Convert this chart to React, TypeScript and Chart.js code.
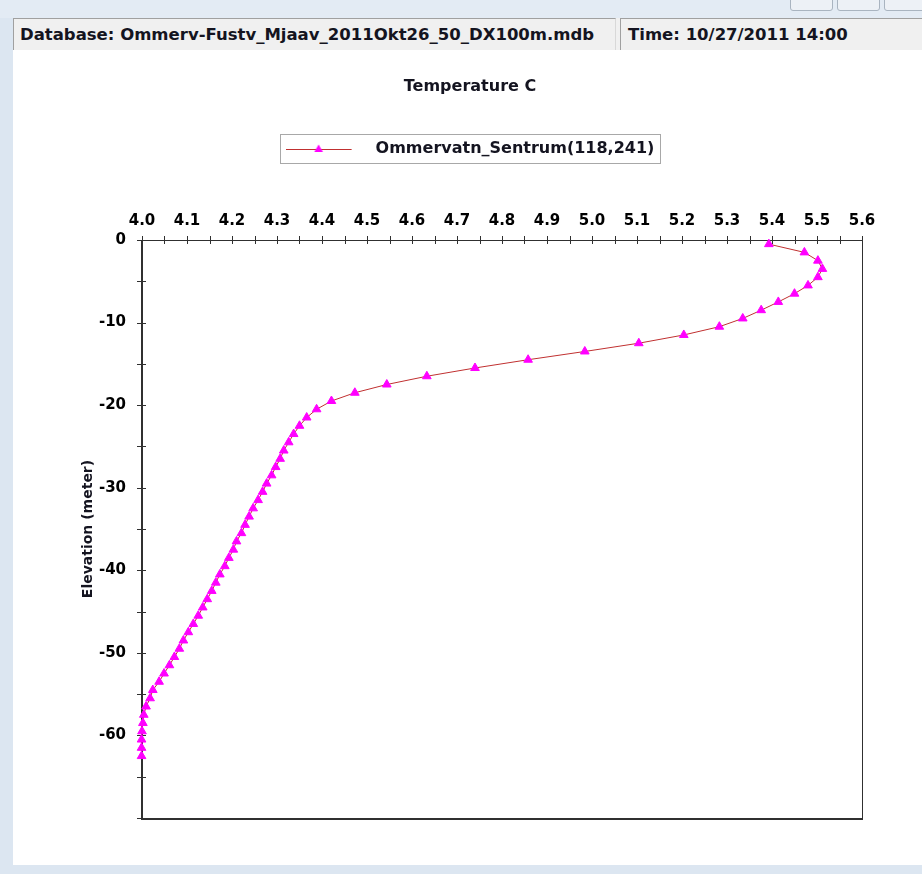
import React, { useEffect, useRef } from 'react';
import { Chart, registerables } from 'chart.js';

Chart.register(...registerables);

// ---------- texts ----------
const DATABASE_LABEL = 'Database: Ommerv-Fustv_Mjaav_2011Okt26_50_DX100m.mdb';
const TIME_LABEL = 'Time: 10/27/2011 14:00';
const CHART_TITLE = 'Temperature C';
const SERIES_NAME = 'Ommervatn_Sentrum(118,241)';
const Y_TITLE = 'Elevation (meter)';

// ---------- data ----------
const elevation = [
  -0.5, -1.5, -2.5, -3.5, -4.5, -5.5, -6.5, -7.5, -8.5, -9.5,
  -10.5, -11.5, -12.5, -13.5, -14.5, -15.5, -16.5, -17.5, -18.5, -19.5,
  -20.5, -21.5, -22.5, -23.5, -24.5, -25.5, -26.5, -27.5, -28.5, -29.5,
  -30.5, -31.5, -32.5, -33.5, -34.5, -35.5, -36.5, -37.5, -38.5, -39.5,
  -40.5, -41.5, -42.5, -43.5, -44.5, -45.5, -46.5, -47.5, -48.5, -49.5,
  -50.5, -51.5, -52.5, -53.5, -54.5, -55.5, -56.5, -57.5, -58.5, -59.5,
  -60.5, -61.5, -62.5,
];
const temperature = [
  5.393, 5.472, 5.502, 5.512, 5.502, 5.480, 5.450, 5.414, 5.376, 5.335,
  5.283, 5.204, 5.104, 4.984, 4.858, 4.740, 4.633, 4.544, 4.473, 4.421,
  4.388, 4.366, 4.350, 4.337, 4.326, 4.315, 4.307, 4.297, 4.288, 4.277,
  4.268, 4.258, 4.247, 4.238, 4.229, 4.221, 4.210, 4.203, 4.193, 4.184,
  4.173, 4.164, 4.155, 4.145, 4.135, 4.125, 4.114, 4.103, 4.092, 4.083,
  4.072, 4.061, 4.049, 4.038, 4.024, 4.018, 4.009, 4.004, 4.002, 4.000,
  3.999, 3.999, 3.999,
];

// ---------- axis ranges / ticks ----------
const X_MIN = 4.0;
const X_MAX = 5.6;
const X_LABEL_STEP = 0.1;
const X_MINOR_STEP = 0.05;
const Y_MIN = -70;
const Y_MAX = 0;
const Y_LABEL_STEP = 10;
const Y_MINOR_STEP = 5;

// ---------- styles ----------
const LINE_COLOR = '#c03030';
const POINT_COLOR = '#ff00ff';
const AXIS_COLOR = '#303030';
const TEXT_COLOR = '#141420';
const FONT = "'DejaVu Sans', 'Noto Sans', sans-serif";

const framePlugin = {
  id: 'plotFrame',
  beforeDatasetsDraw(chart: any) {
    const { ctx, chartArea: a, scales } = chart;
    ctx.save();
    ctx.strokeStyle = AXIS_COLOR;
    ctx.lineWidth = 1;
    ctx.strokeRect(a.left + 0.5, a.top + 0.5, a.right - a.left, a.bottom - a.top);
    ctx.lineWidth = 2;
    ctx.beginPath();
    ctx.moveTo(a.left, a.top);
    ctx.lineTo(a.left, a.bottom + 1);
    ctx.lineTo(a.right + 1, a.bottom + 1);
    ctx.stroke();
    ctx.lineWidth = 1;
    const xs = scales.x;
    const nx = Math.round((X_MAX - X_MIN) / X_MINOR_STEP);
    ctx.beginPath();
    for (let i = 0; i <= nx; i++) {
      const px = Math.round(xs.getPixelForValue(X_MIN + i * X_MINOR_STEP)) + 0.5;
      ctx.moveTo(px, a.top - 4);
      ctx.lineTo(px, a.top + 4);
    }
    const ys = scales.y;
    const ny = Math.round((Y_MAX - Y_MIN) / Y_MINOR_STEP);
    for (let i = 0; i <= ny; i++) {
      const py = Math.round(ys.getPixelForValue(Y_MAX - i * Y_MINOR_STEP)) + 0.5;
      ctx.moveTo(a.left - 5, py);
      ctx.lineTo(a.left + 4, py);
    }
    ctx.stroke();

    // legend frame
    const lg = chart.legend;
    if (lg && lg.legendHitBoxes && lg.legendHitBoxes[0]) {
      const hb = lg.legendHitBoxes[0];
      ctx.strokeStyle = '#a8a8a8';
      ctx.lineWidth = 1;
      ctx.strokeRect(Math.round(hb.left - 6) + 0.5, Math.round(hb.top - 7) + 0.5, Math.round(hb.width + 11), 29);
    }
    ctx.restore();
  },
};

function makeLegendImage(): HTMLCanvasElement {
  const c = document.createElement('canvas');
  c.width = 82;
  c.height = 14;
  const g = c.getContext('2d')!;
  g.strokeStyle = LINE_COLOR;
  g.lineWidth = 1.2;
  g.beginPath();
  g.moveTo(0, 7.5);
  g.lineTo(66, 7.5);
  g.stroke();
  g.fillStyle = POINT_COLOR;
  const r = 5;
  const cx = 33;
  const cy = 7.5;
  g.beginPath();
  g.moveTo(cx, cy - r);
  g.lineTo(cx + r * Math.sin((2 * Math.PI) / 3), cy - r * Math.cos((2 * Math.PI) / 3));
  g.lineTo(cx + r * Math.sin((4 * Math.PI) / 3), cy - r * Math.cos((4 * Math.PI) / 3));
  g.closePath();
  g.fill();
  return c;
}

export default function App() {
  const ref = useRef<HTMLCanvasElement>(null);

  useEffect(() => {
    const canvas = ref.current;
    if (!canvas) return;
    const legendImg = makeLegendImage();
    const points = temperature.map((t, i) => ({ x: t, y: elevation[i] }));

    const chart = new Chart(canvas, {
      type: 'scatter',
      data: {
        datasets: [
          {
            label: SERIES_NAME,
            data: points,
            showLine: true,
            borderColor: LINE_COLOR,
            borderWidth: 1,
            backgroundColor: POINT_COLOR,
            pointBackgroundColor: POINT_COLOR,
            pointBorderColor: POINT_COLOR,
            pointBorderWidth: 1,
            pointStyle: 'triangle',
            pointRadius: 5,
            clip: false as any,
          } as any,
        ],
      },
      options: {
        animation: false,
        responsive: false,
        events: [],
        layout: { padding: { top: 0, left: 64, right: 60, bottom: 44 } },
        plugins: {
          title: {
            display: true,
            text: CHART_TITLE,
            color: TEXT_COLOR,
            font: { family: FONT, size: 16, weight: 'bold' },
            padding: { top: 25.4, bottom: 20 },
          },
          legend: {
            display: true,
            position: 'top',
            labels: {
              usePointStyle: true,
              pointStyle: legendImg as any,
              pointStyleWidth: 82,
              color: TEXT_COLOR,
              font: { family: FONT, size: 16, weight: 'bold' },
              padding: 24.4,
            },
          },
          tooltip: { enabled: false },
        },
        scales: {
          x: {
            type: 'linear',
            position: 'top',
            min: X_MIN,
            max: X_MAX,
            grid: { display: false },
            border: { display: false },
            afterFit: (s: any) => {
              s.height = 73;
            },
            ticks: {
              stepSize: X_LABEL_STEP,
              padding: 2,
              color: '#000',
              maxRotation: 0,
              autoSkip: false,
              font: { family: FONT, size: 15, weight: 'bold' },
              callback: (v: any) => Number(v).toFixed(1),
            },
          },
          y: {
            type: 'linear',
            position: 'left',
            min: Y_MIN,
            max: Y_MAX,
            grid: { display: false },
            border: { display: false },
            afterFit: (s: any) => {
              s.width = 64;
            },
            title: {
              display: true,
              text: Y_TITLE,
              color: TEXT_COLOR,
              font: { family: FONT, size: 14, weight: 'bold' },
              padding: { top: 2, bottom: 0 },
            },
            ticks: {
              stepSize: Y_LABEL_STEP,
              padding: 8,
              color: '#000',
              autoSkip: false,
              font: { family: FONT, size: 15, weight: 'bold' },
              callback: (v: any) => (Number(v) === Y_MIN ? '' : String(Math.round(Number(v)))),
            },
          },
        },
      } as any,
      plugins: [framePlugin],
    });
    return () => chart.destroy();
  }, []);

  const headerText: React.CSSProperties = {
    position: 'absolute',
    top: 18,
    height: 32,
    boxSizing: 'border-box',
    lineHeight: '31px',
    fontFamily: FONT,
    fontWeight: 'bold',
    fontSize: 16.5,
    color: TEXT_COLOR,
    whiteSpace: 'nowrap',
    overflow: 'hidden',
  };

  return (
    <div
      style={{
        position: 'fixed',
        left: 0,
        top: 0,
        width: 922,
        height: 874,
        background: '#ffffff',
        overflow: 'hidden',
      }}
    >
      <div style={{ position: 'absolute', left: 0, top: 0, width: 922, height: 18, background: '#e3ebf4' }} />
      {[790, 837, 884].map((x) => (
        <div
          key={x}
          style={{
            position: 'absolute',
            left: x,
            top: -4,
            width: 43,
            height: 15,
            boxSizing: 'border-box',
            border: '1px solid #a9b4c0',
            borderRadius: 3,
            background: '#edf1f6',
          }}
        />
      ))}
      <div style={{ position: 'absolute', left: 0, top: 18, width: 13, height: 856, background: '#dce6f1' }} />
      <div style={{ position: 'absolute', left: 0, top: 865, width: 922, height: 9, background: '#dce6f1' }} />
      <div
        style={{
          ...headerText,
          left: 13,
          width: 603,
          background: '#f0f0f0',
          borderTop: '1px solid #a0a0a0',
          borderLeft: '1px solid #a0a0a0',
          borderRight: '1px solid #d8d8d8',
          paddingLeft: 6,
        }}
      >
        {DATABASE_LABEL}
      </div>
      <div style={{ position: 'absolute', left: 616, top: 18, width: 4, height: 32, background: '#f0f0f0' }} />
      <div
        style={{
          ...headerText,
          left: 620,
          width: 302,
          background: '#f0f0f0',
          borderTop: '1px solid #a0a0a0',
          borderLeft: '1px solid #a0a0a0',
          paddingLeft: 7,
        }}
      >
        {TIME_LABEL}
      </div>
      <canvas
        ref={ref}
        width={908}
        height={810}
        style={{ position: 'absolute', left: 14, top: 52, width: 908, height: 810 }}
      />
    </div>
  );
}
